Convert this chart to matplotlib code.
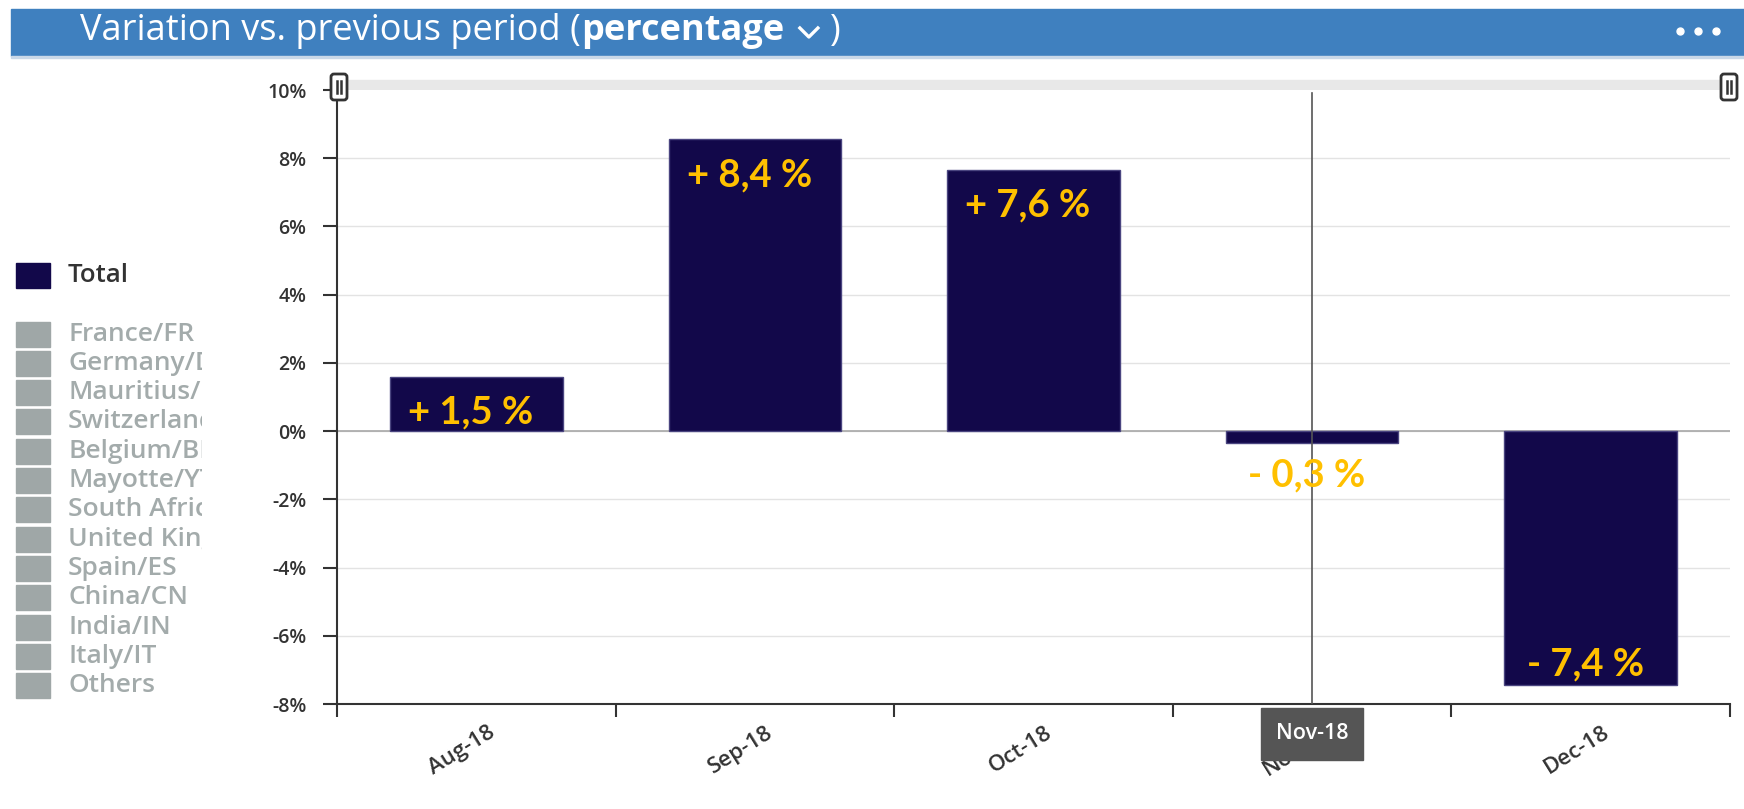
import matplotlib
matplotlib.use("Agg")
import matplotlib.pyplot as plt
from matplotlib.patches import Rectangle, FancyBboxPatch
from matplotlib.lines import Line2D

# data
months = ["Aug-18", "Sep-18", "Oct-18", "Nov-18", "Dec-18"]
variation = [1.6, 8.55, 7.65, -0.35, -7.45]
value_labels = ["+ 1,5 %", "+ 8,4 %", "+ 7,6 %", "- 0,3 %", "- 7,4 %"]
y_ticks = [10, 8, 6, 4, 2, 0, -2, -4, -6, -8]
legend_items = ["France/FR", "Germany/DE", "Mauritius/MU", "Switzerland/CH",
                "Belgium/BE", "Mayotte/YT", "South Africa/ZA", "United Kingdom/GB",
                "Spain/ES", "China/CN", "India/IN", "Italy/IT", "Others"]
hovered = "Nov-18"

W, H = 1744, 809
bar_color = "#12084a"
label_color = "#ffc000"
header_color = "#3f80bf"

plt.rcParams["font.family"] = ["Open Sans", "DejaVu Sans"]
fig = plt.figure(figsize=(W / 100, H / 100), dpi=100)

# main chart area
ax = fig.add_axes([337 / W, 1 - 704 / H, (1730 - 337) / W, (704 - 90) / H])
x = list(range(len(months)))
ax.bar(x, variation, width=0.62, color=bar_color, edgecolor="#4a4580", linewidth=1, zorder=3)
ax.set_xlim(-0.5, len(months) - 0.5)
ax.set_ylim(-8, 10)
ax.set_yticks(y_ticks)
ax.set_yticklabels([f"{t}%" for t in y_ticks], fontsize=14, color="#333333", fontweight="semibold")
ax.tick_params(axis="y", length=10, width=1.5, color="#333333", pad=12)
for t in y_ticks[1:-1]:
    ax.axhline(t, color="#e3e3e3", lw=1, zorder=1)
ax.axhline(0, color="#a8a8a8", lw=1.2, zorder=2)

for s in ["top", "right"]:
    ax.spines[s].set_visible(False)
ax.spines["left"].set_color("#333333")
ax.spines["left"].set_linewidth(1.5)
ax.spines["bottom"].set_color("#333333")
ax.spines["bottom"].set_linewidth(1.5)

# category ticks on boundaries, labels at centres
ax.set_xticks([i - 0.5 for i in range(len(months) + 1)])
ax.set_xticklabels([])
ax.tick_params(axis="x", length=9, width=1.5, color="#333333")
for i, m in enumerate(months):
    ax.annotate(m, xy=(i, -8), xycoords="data", xytext=(8, -13), textcoords="offset points",
                ha="right", va="top", rotation=32, rotation_mode="anchor",
                fontsize=16, fontweight="semibold", color="#333333", annotation_clip=False)

# value labels
for i, (v, lab) in enumerate(zip(variation, value_labels)):
    if v > 0:
        yy = v - 1.05
    elif v < -1:
        yy = v + 0.6
    else:
        yy = v - 0.95
    ax.text(i - 0.02, yy, lab, ha="center", va="center", color=label_color,
            fontsize=27.5, fontweight="bold", family=["Lato", "DejaVu Sans"], zorder=5)

# crosshair and tooltip on hovered month
hi = months.index(hovered)
ax.axvline(hi, ymin=0, ymax=(9.9 + 8) / 18, color="#555555", lw=1.2, zorder=4)
ax.annotate(hovered, xy=(hi, -8), xycoords="data", xytext=(0, -14), textcoords="offset points",
            ha="center", va="top", color="white", fontsize=15.5, fontweight="semibold",
            bbox=dict(boxstyle="square,pad=0.7", fc="#555555", ec="#555555"),
            annotation_clip=False, zorder=10)

# overlay in pixel coordinates for header, scrollbar and legend
ov = fig.add_axes([0, 0, 1, 1], zorder=-1)
ov.set_xlim(0, W)
ov.set_ylim(H, 0)
ov.axis("off")

ov.add_patch(Rectangle((11, 9), W - 11, 47, color=header_color))
ov.add_patch(Rectangle((11, 56), W - 11, 2, color="#c9d8e8"))
for dx in [1680, 1698, 1716]:
    ov.plot(dx, 31, "o", color="white", ms=5)

# scrollbar strip at the top of the plot
ov.add_patch(Rectangle((337, 80), 1730 - 337, 12, color="#e8e8e8"))

fig.canvas.draw()
renderer = fig.canvas.get_renderer()
xpos = 80
def piece(s, weight):
    global xpos
    t = ov.text(xpos, 31, s, color="white", fontsize=26, fontweight=weight, va="center", ha="left")
    bb = t.get_window_extent(renderer)
    xpos += bb.width
    return t

piece("Variation vs. previous period (", "normal")
piece("percentage", "bold")
xpos += 16
ov.add_line(Line2D([xpos, xpos + 9, xpos + 18], [28, 37, 28], color="white", lw=2.4))
xpos += 30
piece(")", "normal")

# legend on the left
top_ax = fig.add_axes([0, 0, 202 / W, 1], zorder=2)
top_ax.set_xlim(0, 202)
top_ax.set_ylim(H, 0)
top_ax.axis("off")
top_ax.add_patch(Rectangle((16, 263), 34, 25, color=bar_color))
top_ax.text(68, 276, "Total", color="#333333", fontsize=18.5, fontweight="semibold", va="center",
            clip_on=True)
for k, name in enumerate(legend_items):
    yc = 334 + k * 29.3
    top_ax.add_patch(Rectangle((16, yc - 12.5), 34, 25, color="#9fa7a7"))
    top_ax.text(68, yc, name, color="#a3abab", fontsize=19, fontweight="semibold",
                va="center", clip_on=True)

# scrollbar handles
hax = fig.add_axes([0, 0, 1, 1], zorder=3)
hax.set_xlim(0, W)
hax.set_ylim(H, 0)
hax.axis("off")
for hx in [339, 1729]:
    hax.add_patch(FancyBboxPatch((hx - 8, 74), 16, 26, boxstyle="round,pad=0,rounding_size=3",
                                 fc="white", ec="#333333", lw=2))
    hax.add_line(Line2D([hx - 2, hx - 2], [81, 93], color="#333333", lw=1.8))
    hax.add_line(Line2D([hx + 2, hx + 2], [81, 93], color="#333333", lw=1.8))

fig.savefig("out.png", dpi=100)
